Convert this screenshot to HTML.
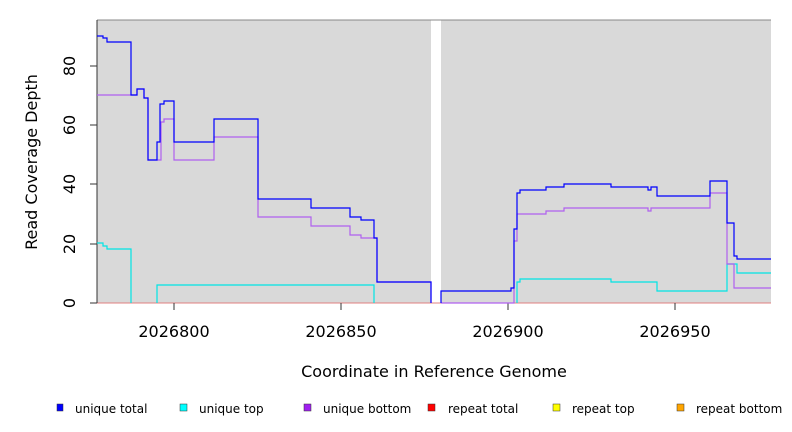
<!DOCTYPE html>
<html><head><style>body{margin:0;background:#fff}svg{display:block}text{font-family:"DejaVu Sans","Liberation Sans",sans-serif}</style></head>
<body>
<svg width="792" height="432" viewBox="0 0 792 432" xmlns="http://www.w3.org/2000/svg">
<rect x="97" y="20" width="334" height="283" fill="#d9d9d9"/>
<rect x="441" y="20" width="330" height="283" fill="#d9d9d9"/>
<line x1="97" y1="20" x2="771" y2="20" stroke="#888" stroke-width="1"/>
<line x1="97" y1="303" x2="771" y2="303" stroke="#e08080" stroke-width="1"/>
<g stroke="#333" stroke-width="1">
<line x1="97" y1="20" x2="97" y2="303"/>
<line x1="90" y1="303" x2="97" y2="303"/><line x1="90" y1="244" x2="97" y2="244"/><line x1="90" y1="184" x2="97" y2="184"/><line x1="90" y1="125" x2="97" y2="125"/><line x1="90" y1="66" x2="97" y2="66"/>
<line x1="174" y1="303" x2="174" y2="310"/><line x1="341" y1="303" x2="341" y2="310"/><line x1="508" y1="303" x2="508" y2="310"/><line x1="675" y1="303" x2="675" y2="310"/>
</g>
<g font-size="16" fill="#000" text-anchor="middle">
<text transform="translate(75,303) rotate(-90)">0</text>
<text transform="translate(75,244) rotate(-90)">20</text>
<text transform="translate(75,184) rotate(-90)">40</text>
<text transform="translate(75,125) rotate(-90)">60</text>
<text transform="translate(75,66) rotate(-90)">80</text>
<text x="174" y="337">2026800</text><text x="341" y="337">2026850</text><text x="508" y="337">2026900</text><text x="675" y="337">2026950</text>
<text x="434" y="377">Coordinate in Reference Genome</text>
<text transform="translate(37,162) rotate(-90)">Read Coverage Depth</text>
</g>
<g fill="none" stroke-width="1.2">
<polyline stroke="#00e5e5" points="97,243 103,243 103,246 107,246 107,249 131,249 131,303"/>
<polyline stroke="#00e5e5" points="157,303 157,285 374,285 374,303"/>
<polyline stroke="#00e5e5" points="517,303 517,282 520,282 520,279 611,279 611,282 657,282 657,291 727,291 727,264 737,264 737,273 771,273"/>
<polyline stroke="#b060f0" points="97,95 131,95 137,95 137,89 144,89 144,98 148,98 148,160 157,160 157,160 161,160 161,122 164,122 164,119 174,119 174,160 214,160 214,137 258,137 258,217 311,217 311,226 350,226 350,235 361,235 361,238 374,238 374,238 377,238 377,282 431,282 431,303"/>
<polyline stroke="#b060f0" points="441,303 511,303 514,303 514,241 517,241 517,214 546,214 546,211 564,211 564,208 648,208 648,211 651,211 651,208 710,208 710,193 727,193 727,264 734,264 734,288 771,288"/>
<polyline stroke="#0000ff" points="97,36 103,36 103,38 107,38 107,42 131,42 131,95 137,95 137,89 144,89 144,98 148,98 148,160 157,160 157,142 160,142 160,104 164,104 164,101 174,101 174,142 214,142 214,119 258,119 258,199 311,199 311,208 350,208 350,217 361,217 361,220 374,220 374,238 377,238 377,282 431,282 431,303"/>
<polyline stroke="#0000ff" points="441,303 441,291 511,291 511,288 514,288 514,229 517,229 517,193 520,193 520,190 546,190 546,187 564,187 564,184 611,184 611,187 648,187 648,190 651,190 651,187 657,187 657,196 710,196 710,181 727,181 727,223 734,223 734,256 737,256 737,259 771,259"/>
</g>
<g font-size="12" fill="#000" stroke="#333" stroke-width="0.5">
<rect x="57" y="404" width="6" height="7" fill="#0000ff"/>
<rect x="180" y="404" width="7" height="7" fill="#00ffff"/>
<rect x="304" y="404" width="7" height="7" fill="#a020f0"/>
<rect x="428" y="404" width="7" height="7" fill="#ff0000"/>
<rect x="553" y="404" width="7" height="7" fill="#ffff00"/>
<rect x="677" y="404" width="7" height="7" fill="#ffa500"/>
</g>
<g font-size="12" fill="#000">
<text x="75" y="413">unique total</text>
<text x="199" y="413">unique top</text>
<text x="323" y="413">unique bottom</text>
<text x="448" y="413">repeat total</text>
<text x="572" y="413">repeat top</text>
<text x="696" y="413">repeat bottom</text>
</g>
</svg>
</body></html>
